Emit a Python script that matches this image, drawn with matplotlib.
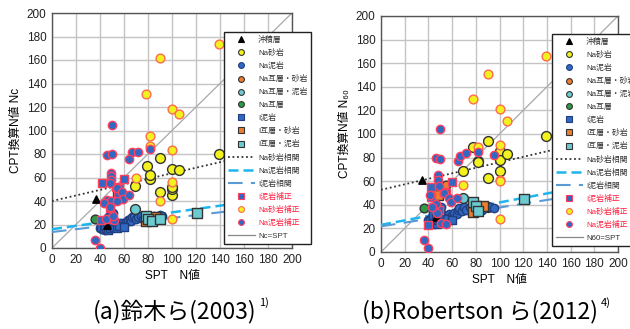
import matplotlib
matplotlib.use("Agg")
import matplotlib.pyplot as plt
from matplotlib.lines import Line2D
import numpy as np

plt.rcParams['font.family'] = ['Liberation Sans', 'Noto Sans CJK JP', 'DejaVu Sans']

# ---- (a) 鈴木ら(2003) : SPT N vs Nc ----
a_alluvium = [(37, 42), (46, 20)]
a_na_sand = [(69, 53), (79, 70), (82, 59), (82, 62), (90, 48), (90, 77), (100, 45),
             (100, 50), (100, 52), (100, 67), (106, 66), (139, 80)]
a_na_mud = [(40, 17), (42, 16), (43, 18), (44, 15), (45, 19), (46, 17), (47, 22), (48, 26),
            (49, 20), (50, 24), (50, 28), (51, 30), (52, 22), (53, 19), (54, 21), (55, 18),
            (56, 20), (57, 19), (58, 21), (60, 20), (62, 22), (63, 24), (65, 25), (66, 23),
            (67, 26), (68, 27), (70, 25), (72, 26), (74, 27), (76, 25), (78, 27), (82, 26),
            (85, 27), (90, 28), (92, 27), (48, 24), (47, 26)]
a_na_alt_sand = [(56, 45)]
a_na_alt_mud = [(69, 33)]
a_na_alt = [(36, 25)]
a_i_mud = [(41, 18), (43, 16), (45, 17), (47, 15), (48, 17), (50, 19), (52, 18), (54, 17),
           (56, 19), (60, 18), (44, 20), (46, 22), (49, 23)]
a_i_alt_sand = [(55, 43), (78, 23), (86, 26)]
a_i_alt_mud = [(78, 27), (80, 25), (83, 23), (90, 25), (121, 30)]
a_i_mud_corr = [(42, 55), (60, 59), (56, 51), (53, 52), (55, 46), (48, 40), (48, 34),
                (41, 24), (50, 25)]
a_na_sand_corr = [(139, 174), (90, 162), (78, 131), (100, 118), (106, 114), (82, 95),
                  (82, 87), (100, 83), (70, 60), (100, 56), (90, 40), (100, 25)]
a_na_mud_corr = [(50, 105), (46, 79), (50, 80), (67, 82), (72, 82), (64, 76), (82, 84),
                 (49, 64), (49, 61), (49, 58), (48, 55), (54, 51), (58, 48), (46, 41),
                 (49, 40), (59, 42), (64, 45), (54, 40), (43, 38), (36, 7), (40, 0),
                 (52, 24), (48, 35), (45, 25), (51, 27)]
# 相関式 (傾き, 切片)
a_fit_na_sand = (0.236, 40.0)
a_fit_na_mud = (0.143, 16.0)
a_fit_i_mud = (0.12, 13.6)

# ---- (b) Robertsonら(2012) : SPT N vs N60 ----
b_alluvium = [(35, 61), (46, 30)]
b_na_sand = [(69, 69), (78, 89), (82, 77), (82, 76), (90, 94), (90, 63), (90, 38),
             (100, 86), (100, 78), (100, 69), (106, 83), (139, 98)]
b_na_mud = [(40, 27), (42, 25), (43, 30), (45, 28), (46, 32), (47, 26), (48, 34), (49, 30),
            (50, 36), (51, 38), (52, 31), (53, 29), (55, 30), (57, 32), (58, 30), (60, 31),
            (62, 33), (64, 32), (65, 36), (66, 37), (68, 35), (70, 38), (72, 36), (75, 38),
            (78, 37), (82, 38), (85, 36), (88, 39), (92, 38), (95, 37), (50, 33), (47, 35)]
b_na_alt_sand = [(55, 57)]
b_na_alt_mud = [(69, 46)]
b_na_alt = [(36, 37)]
b_i_mud = [(41, 26), (43, 24), (45, 25), (47, 24), (48, 27), (50, 28), (52, 26), (54, 25),
           (56, 28), (60, 27), (44, 31), (46, 29), (49, 32)]
b_i_alt_sand = [(48, 48), (78, 34), (86, 39)]
b_i_alt_mud = [(78, 42), (80, 39), (82, 35), (121, 45)]
b_i_mud_corr = [(42, 55), (60, 59), (53, 51), (42, 47), (40, 23), (49, 36), (55, 50)]
b_na_sand_corr = [(139, 166), (90, 151), (78, 130), (100, 121), (106, 111), (82, 89),
                  (100, 91), (100, 61), (100, 60), (69, 57), (100, 28)]
b_na_mud_corr = [(50, 104), (46, 80), (50, 79), (65, 77), (67, 81), (72, 84), (82, 85),
                 (95, 82), (48, 65), (48, 61), (49, 56), (41, 48), (53, 50), (57, 46),
                 (46, 41), (59, 42), (64, 46), (36, 10), (40, 3), (51, 25), (55, 24),
                 (47, 33), (43, 38)]
b_fit_na_sand = (0.233, 52.7)
b_fit_na_mud = (0.19, 23.0)
b_fit_i_mud = (0.16, 21.7)

BLUE = '#3068C2'
YELLOW = '#F2F21E'
ORANGE = '#ED7D31'
CYAN = '#6CCBD0'
GREEN = '#2E9A48'
RED = '#FF4060'
DARK = '#333333'
MUD_EDGE = '#1F3F80'


def pts(p):
    p = np.array(p, dtype=float).reshape(-1, 2)
    return p[:, 0], p[:, 1]


def draw_panel(ax, d, fits, diag_label, ylabel, legend_anchor):
    xs = np.array([0, 200])
    diag, = ax.plot(xs, xs, color='#A8A8A8', lw=0.9, zorder=1)

    # (key, marker, face, edge, size, label, zorder)
    styles = [
        ('alluvium', '^', 'black', 'black', 28, '沖積層', 6),
        ('na_sand', 'o', YELLOW, DARK, 50, 'Na砂岩', 4),
        ('na_mud', 'o', BLUE, MUD_EDGE, 36, 'Na泥岩', 4),
        ('na_alt_sand', 'o', ORANGE, DARK, 40, 'Na互層・砂岩', 4),
        ('na_alt_mud', 'o', CYAN, DARK, 50, 'Na互層・泥岩', 4),
        ('na_alt', 'o', GREEN, DARK, 40, 'Na互層', 4),
        ('i_mud', 's', BLUE, MUD_EDGE, 36, 'I泥岩', 5),
        ('i_alt_sand', 's', ORANGE, DARK, 50, 'I互層・砂岩', 5),
        ('i_alt_mud', 's', CYAN, DARK, 50, 'I互層・泥岩', 5),
        ('i_mud_corr', 's', BLUE, RED, 36, 'I泥岩補正', 6),
        ('na_sand_corr', 'o', YELLOW, '#FF6A50', 40, 'Na砂岩補正', 6),
        ('na_mud_corr', 'o', BLUE, RED, 36, 'Na泥岩補正', 6),
    ]
    h = {}
    for key, m, fc, ec, s, lab, z in styles:
        x, y = pts(d[key])
        ax.scatter(x, y, s=s, marker=m, c=fc, edgecolors=ec, linewidths=1.0, zorder=z)
        h[key] = Line2D([], [], ls='', marker=m, ms=4.2 if m != '^' else 4.0,
                        markerfacecolor=fc, markeredgecolor=ec, markeredgewidth=0.8,
                        label=lab)

    xl = np.array([0, 200])
    l1, = ax.plot(xl, fits[0][0] * xl + fits[0][1], ls=(0, (1, 1.5)), color=DARK,
                  lw=1.3, zorder=3, label='Na砂岩相関')
    l2, = ax.plot(xl, fits[1][0] * xl + fits[1][1], ls=(0, (4, 2)), color='#1EB4EE',
                  lw=1.8, zorder=3, label='Na泥岩相関')
    l3, = ax.plot(xl, fits[2][0] * xl + fits[2][1], ls=(0, (7, 4)), color='#5B9BD5',
                  lw=1.5, zorder=3, label='I泥岩相関')
    hdiag = Line2D([], [], color='#888888', lw=0.9, label=diag_label)

    ax.set_xlim(0, 200)
    ax.set_ylim(0, 200)
    ax.set_xticks(np.arange(0, 201, 20))
    ax.set_yticks(np.arange(0, 201, 20))
    ax.grid(True, color='#C4C4C4', lw=1.0, zorder=0)
    ax.set_axisbelow(True)
    ax.tick_params(length=0, labelsize=8.5, pad=4, colors='#222222')
    for s in ax.spines.values():
        s.set_color('#555555')
        s.set_linewidth(1.0)
    ax.set_xlabel('SPT\u3000N値', fontsize=8.5, labelpad=3)
    ax.set_ylabel(ylabel, fontsize=8.5, labelpad=3)

    handles = [h['alluvium'], h['na_sand'], h['na_mud'], h['na_alt_sand'], h['na_alt_mud'],
               h['na_alt'], h['i_mud'], h['i_alt_sand'], h['i_alt_mud'], l1, l2, l3,
               h['i_mud_corr'], h['na_sand_corr'], h['na_mud_corr'], hdiag]
    leg = ax.legend(handles=handles, loc='upper left', bbox_to_anchor=legend_anchor,
                    bbox_transform=ax.figure.transFigure, borderaxespad=0,
                    fontsize=5.7, handlelength=3.4, handletextpad=0.4,
                    labelspacing=0.64, borderpad=0.5, frameon=True, fancybox=False,
                    framealpha=1, edgecolor='#222222', numpoints=1)
    leg.get_frame().set_linewidth(1.0)
    leg.set_zorder(10)
    for t in leg.get_texts():
        if '補正' in t.get_text():
            t.set_color('#FF2040')
        else:
            t.set_color('#333333')


fig = plt.figure(figsize=(6.3, 3.29), dpi=100)
ax1 = fig.add_axes([52 / 630, 1 - 248 / 329, 240 / 630, 235 / 329])
ax2 = fig.add_axes([381 / 630, 1 - 252 / 329, 237 / 630, 236 / 329])

data_a = dict(alluvium=a_alluvium, na_sand=a_na_sand, na_mud=a_na_mud,
              na_alt_sand=a_na_alt_sand, na_alt_mud=a_na_alt_mud, na_alt=a_na_alt,
              i_mud=a_i_mud, i_alt_sand=a_i_alt_sand, i_alt_mud=a_i_alt_mud,
              i_mud_corr=a_i_mud_corr, na_sand_corr=a_na_sand_corr, na_mud_corr=a_na_mud_corr)
data_b = dict(alluvium=b_alluvium, na_sand=b_na_sand, na_mud=b_na_mud,
              na_alt_sand=b_na_alt_sand, na_alt_mud=b_na_alt_mud, na_alt=b_na_alt,
              i_mud=b_i_mud, i_alt_sand=b_i_alt_sand, i_alt_mud=b_i_alt_mud,
              i_mud_corr=b_i_mud_corr, na_sand_corr=b_na_sand_corr, na_mud_corr=b_na_mud_corr)

draw_panel(ax1, data_a, [a_fit_na_sand, a_fit_na_mud, a_fit_i_mud], 'Nc=SPT',
           'CPT換算N値 Nc', (224 / 630, 1 - 32 / 329))
draw_panel(ax2, data_b, [b_fit_na_sand, b_fit_na_mud, b_fit_i_mud], 'N60=SPT',
           'CPT換算N値 N\u2086\u2080', (552 / 630, 1 - 34 / 329))

cap_font = ['Noto Sans CJK JP', 'DejaVu Sans']
t1 = fig.text(93 / 630, 1 - 318 / 329, '(a)鈴木ら(2003)', fontsize=16.5, family=cap_font,
              ha='left', va='baseline')
ax1.annotate('1)', xy=(1, 0.62), xycoords=t1, fontsize=8, family=cap_font,
             ha='left', va='bottom', xytext=(2, 0), textcoords='offset points')
t2 = fig.text(362 / 630, 1 - 318 / 329, '(b)Robertson ら(2012)', fontsize=16.5,
              family=cap_font, ha='left', va='baseline')
ax2.annotate('4)', xy=(1, 0.62), xycoords=t2, fontsize=8, family=cap_font,
             ha='left', va='bottom', xytext=(2, 0), textcoords='offset points')

fig.savefig('out.png', dpi=100)
